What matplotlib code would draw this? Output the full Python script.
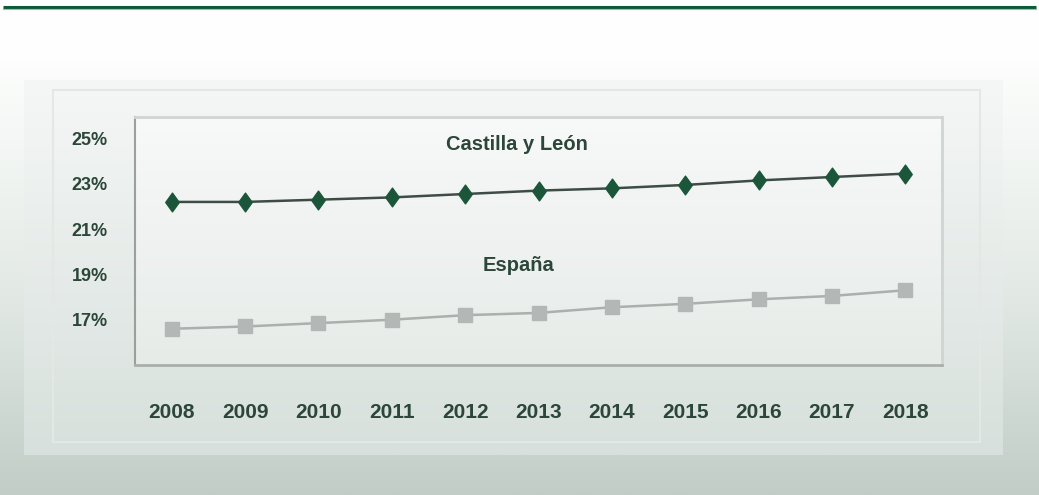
import numpy as np
import matplotlib
matplotlib.use("Agg")
import matplotlib.pyplot as plt
from matplotlib.path import Path
from matplotlib.patches import Rectangle
import matplotlib.colors as mcolors

years = ["2008", "2009", "2010", "2011", "2012", "2013", "2014", "2015", "2016", "2017", "2018"]
castilla_leon = [22.2, 22.2, 22.3, 22.4, 22.55, 22.7, 22.8, 22.95, 23.15, 23.3, 23.45]
espana = [16.6, 16.7, 16.85, 17.0, 17.2, 17.3, 17.55, 17.7, 17.9, 18.05, 18.3]
y_ticks = [17, 19, 21, 23, 25]
y_tick_labels = ["17%", "19%", "21%", "23%", "25%"]
label_cyl = "Castilla y León"
label_esp = "España"

W, H = 1039, 495
fig = plt.figure(figsize=(W / 100, H / 100), dpi=100)

TXT = "#2c4639"
FAM = ["Liberation Sans", "DejaVu Sans"]

def fx(px):
    return px / W

def fy(py):
    return 1 - py / H

def vgrad(ax_fig, x0, y0, x1, y1, stops, z):
    n = 256
    t = np.linspace(0, 1, n)
    cols = np.zeros((n, 3))
    pos = [s[0] for s in stops]
    rgb = np.array([mcolors.to_rgb(s[1]) for s in stops])
    for c in range(3):
        cols[:, c] = np.interp(t, pos, rgb[:, c])
    img = cols[:, None, :]
    ax_fig.imshow(img, extent=[x0, x1, y1, y0], aspect="auto", zorder=z,
                  interpolation="bilinear")

bg = fig.add_axes([0, 0, 1, 1])
bg.axis("off")
vgrad(bg, 0, 0, W, H, [(0, "#ffffff"), (0.12, "#fdfefd"), (0.6, "#e2e9e5"), (1, "#c1cdc6")], 0)
bg.plot([3, 1036], [6.5, 6.5], color="#0d5a3a", lw=2.2, zorder=2, solid_capstyle="butt")
bg.plot([3, 1036], [8.5, 8.5], color="#9fbcae", lw=0.8, zorder=2)
vgrad(bg, 24, 80, 1003, 455, [(0, "#f5f7f6"), (1, "#d7e0dc")], 1)
bg.add_patch(Rectangle((53, 90), 927, 352, fill=False, ec="#e3e8e5", lw=1.5, zorder=2))
vgrad(bg, 135, 117, 942, 365, [(0, "#f8f9f9"), (1, "#e6ebe8")], 2)
bg.set_xlim(0, W)
bg.set_ylim(H, 0)

ax = fig.add_axes([fx(135), fy(365), fx(942 - 135), (365 - 117) / H])
ax.patch.set_alpha(0)
x = np.arange(len(years))

diamond = Path([(0, 1), (0.72, 0), (0, -1), (-0.72, 0), (0, 1)],
               [Path.MOVETO, Path.LINETO, Path.LINETO, Path.LINETO, Path.CLOSEPOLY])

ax.plot(x, castilla_leon, color="#3e4c45", lw=1.8, zorder=3)
ax.plot(x, castilla_leon, linestyle="none", marker=diamond, markersize=13.5,
        color="#1c563a", mec="#1c563a", zorder=4)
ax.plot(x, espana, color="#aab0ad", lw=1.8, zorder=3)
ax.plot(x, espana, linestyle="none", marker="s", markersize=9.5,
        color="#b3b8b6", mec="#b3b8b6", zorder=4)

ax.set_xlim(-0.5, len(years) - 0.5)
ax.set_ylim(15.0, 25.95)
ax.set_yticks(y_ticks)
ax.set_yticklabels(y_tick_labels, fontsize=13, fontweight="bold", color=TXT, family=FAM)
ax.set_xticks(x)
ax.set_xticklabels(years, fontsize=15, fontweight="bold", color=TXT,
                   family=["Liberation Sans Narrow", "Liberation Sans", "DejaVu Sans"])
ax.tick_params(axis="y", length=0, pad=19.5)
ax.tick_params(axis="x", length=0, pad=27)

for s in ["top", "right"]:
    ax.spines[s].set_color("#cfd5d2")
    ax.spines[s].set_linewidth(2)
ax.spines["left"].set_color("#9aa19d")
ax.spines["left"].set_linewidth(1.5)
ax.spines["bottom"].set_color("#a9b0ac")
ax.spines["bottom"].set_linewidth(2)

ax.text(0.473, 0.89, label_cyl, transform=ax.transAxes, ha="center", va="center",
        fontsize=14.5, fontweight="bold", color=TXT, family=FAM)
ax.text(0.475, 0.40, label_esp, transform=ax.transAxes, ha="center", va="center",
        fontsize=14.5, fontweight="bold", color=TXT, family=FAM)

fig.savefig("out.png", dpi=100)
